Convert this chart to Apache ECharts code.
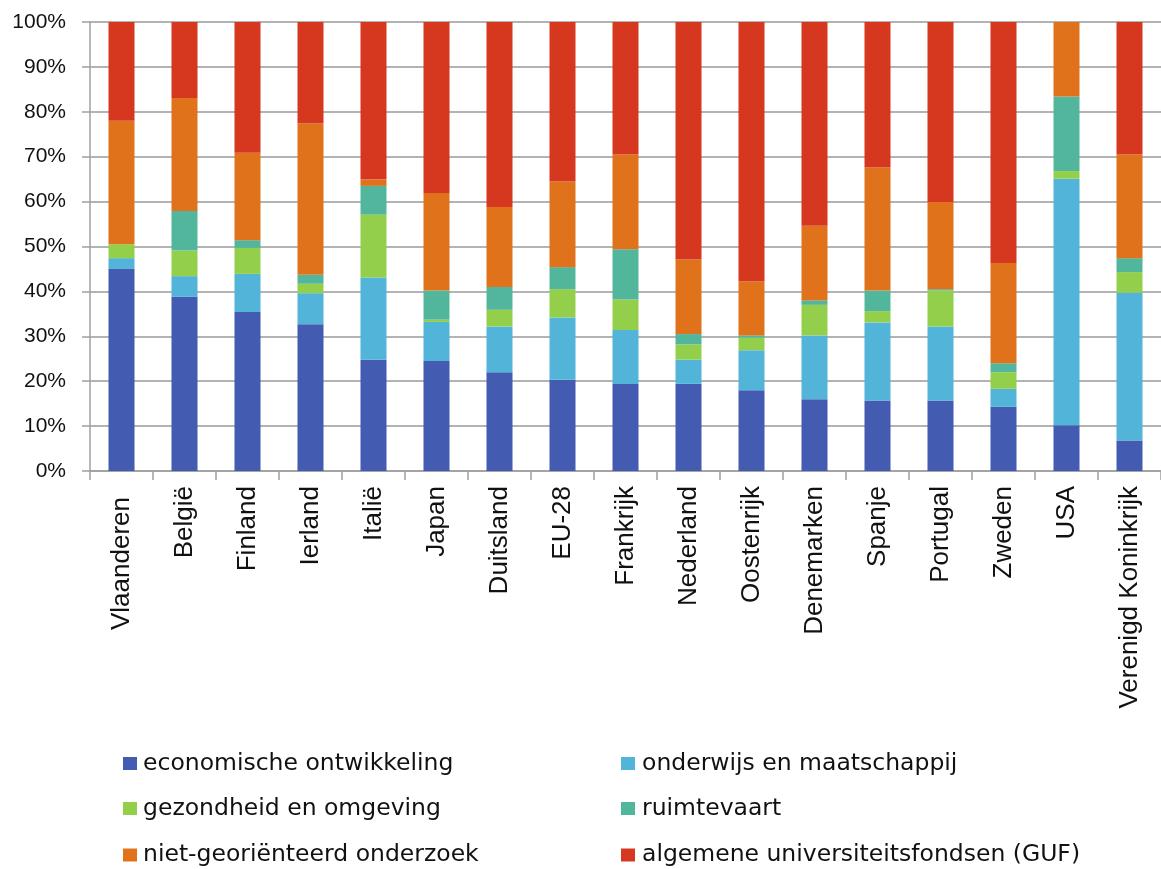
<!DOCTYPE html>
<html>
<head>
<meta charset="utf-8">
<script src="https://cdn.jsdelivr.net/npm/echarts@6/dist/echarts.min.js"></script>
<style>html,body{margin:0;padding:0;background:#fff;}#c{width:1161px;height:869px;}</style>
</head>
<body>
<div id="c"></div>
<script>
const categories = ['Vlaanderen','België','Finland','Ierland','Italië','Japan','Duitsland','EU-28','Frankrijk','Nederland','Oostenrijk','Denemarken','Spanje','Portugal','Zweden','USA','Verenigd Koninkrijk'];
const seriesNames = ['economische ontwikkeling','onderwijs en maatschappij','gezondheid en omgeving','ruimtevaart','niet-georiënteerd onderzoek','algemene universiteitsfondsen (GUF)'];
const economisch = [45.0,38.8,35.4,32.7,24.8,24.5,22.0,20.3,19.4,19.4,18.0,16.0,15.7,15.7,14.3,10.2,6.8];
const onderwijs  = [2.4,4.6,8.5,6.9,18.3,8.7,10.2,13.9,12.0,5.4,8.9,14.2,17.4,16.5,4.0,54.9,32.9];
const gezondheid = [3.1,5.7,5.8,2.1,14.0,0.5,3.7,6.3,6.8,3.4,2.8,6.8,2.5,8.0,3.7,1.7,4.6];
const ruimtevaart = [0.0,8.8,1.7,2.0,6.4,6.5,5.1,4.9,11.2,2.3,0.5,1.0,4.6,0.3,2.0,16.6,3.1];
const nietGeo    = [27.5,25.2,19.5,33.7,1.4,21.7,17.8,19.1,21.1,16.6,12.0,16.6,27.4,19.4,22.3,16.6,23.1];
const guf        = [22.0,16.9,29.1,22.6,35.1,38.1,41.2,35.5,29.5,52.9,57.8,45.4,32.4,40.1,53.7,0.0,29.5];
const yTicks = [0,10,20,30,40,50,60,70,80,90,100];

const colors = ['#435BB0','#52B4D8','#93CF4A','#52B69D','#E0721C','#D6381F'];
const dataSets = [economisch,onderwijs,gezondheid,ruimtevaart,nietGeo,guf];
const axisFont = "'Liberation Sans', Arial, sans-serif";
const legendFont = "'DejaVu Sans', Verdana, sans-serif";

const legendPos = [
  {left:123, top:751.5, pad:1},{left:621, top:751.5, pad:2},
  {left:123, top:796.5, pad:1},{left:621, top:796.5, pad:2},
  {left:123, top:843, pad:1},{left:621, top:843, pad:2}
];

const catData = categories.map((c,i)=> i===0 ? {value:c, textStyle:{padding:[0,11,0,0]}} : c);

const chart = echarts.init(document.getElementById('c'));
chart.setOption({
  animation:false,
  backgroundColor:'#fff',
  grid:{left:90, top:22, width:1082, height:449, containLabel:false},
  legend: seriesNames.map((n,i)=>({
    data:[n], left:legendPos[i].left, top:legendPos[i].top, padding:0,
    icon:'rect', itemWidth:14, itemHeight:13, itemGap:0,
    textStyle:{fontFamily:legendFont, fontSize:23.5, lineHeight:24, color:'#111', padding:[0,0,0,legendPos[i].pad]},
    selectedMode:false
  })),
  xAxis:{
    type:'category', data:catData,
    axisLine:{lineStyle:{color:'#a0a0a0', width:1.5}},
    axisTick:{show:true, length:9, lineStyle:{color:'#a0a0a0', width:1.5}},
    axisLabel:{rotate:90, fontFamily:axisFont, fontSize:26, color:'#111', margin:15, interval:0}
  },
  yAxis:{
    type:'value', min:0, max:100, interval:10,
    axisLine:{show:true, lineStyle:{color:'#a0a0a0', width:1.5}},
    axisTick:{show:true, length:8, lineStyle:{color:'#a0a0a0', width:1.5}},
    splitLine:{lineStyle:{color:'#9a9a9a', width:1.5}},
    axisLabel:{formatter:v=>yTicks.includes(v)? v+'%':'', fontFamily:axisFont, fontSize:21, color:'#111', margin:24}
  },
  series: seriesNames.map((n,i)=>({
    name:n, type:'bar', stack:'total', barWidth:26,
    data:dataSets[i],
    itemStyle:{color:colors[i]}
  }))
});
</script>
</body>
</html>
